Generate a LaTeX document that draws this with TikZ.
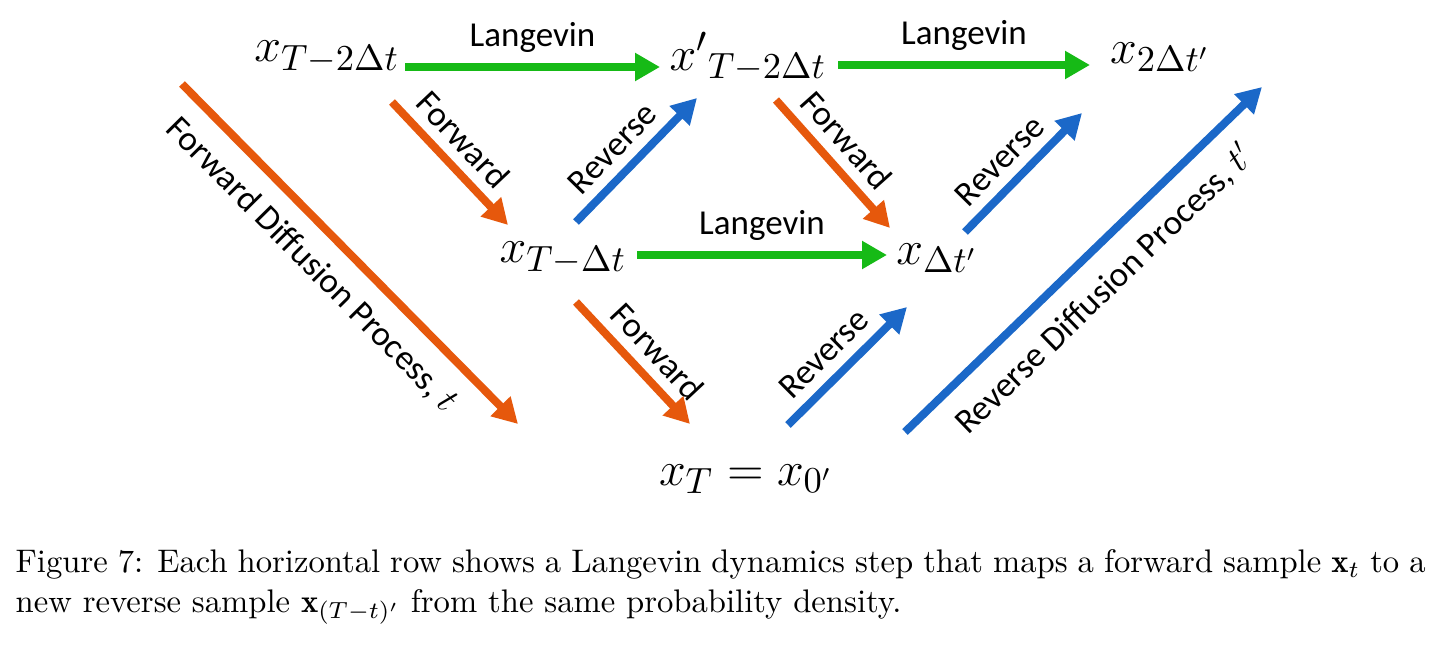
\documentclass[tikz,border=0pt]{standalone}
\usepackage{fontspec}
\newfontfamily\calibri{Carlito}
\usetikzlibrary{arrows.meta}

\definecolor{fwdorange}{RGB}{230,88,12}
\definecolor{revblue}{RGB}{27,104,200}
\definecolor{lgvgreen}{RGB}{22,186,22}

\begin{document}
\begin{tikzpicture}[x=0.3pt, y=-0.3pt, >={Triangle[width=8pt,length=7.5pt]},
  state/.style={inner sep=0pt, font=\fontsize{15}{18}\selectfont},
  lbl/.style={text=black, font=\calibri\fontsize{10.5}{12}\selectfont, inner sep=3pt},
  fwd/.style={->, fwdorange, line width=2.4pt},
  rev/.style={->, revblue, line width=2.4pt},
  lgv/.style={->, lgvgreen, line width=2.4pt}]

\useasboundingbox (0,0) rectangle (1435,652);

% samples, one row per Langevin step
\node[state] (a) at (327,57) {$x_{T-2\Delta t}$};
\node[state] (b) at (748,57) {${x'}_{T-2\Delta t}$};
\node[state] (c) at (1160,57) {$x_{2\Delta t'}$};
\node[state] (d) at (563,258) {$x_{T-\Delta t}$};
\node[state] (e) at (937,258) {$x_{\Delta t'}$};
\node[state] (f) at (746,479) {$x_T = x_{0'}$};

% Langevin steps
\draw[lgv] ([shift={(78,10)}]a.center) -- ([shift={(-88,10)}]b.center) node[lbl, midway, above] {Langevin};
\draw[lgv] ([shift={(90,8)}]b.center) -- ([shift={(-70,8)}]c.center) node[lbl, midway, above] {Langevin};
\draw[lgv] ([shift={(74,-3)}]d.center) -- ([shift={(-50,-3)}]e.center) node[lbl, midway, above] {Langevin};

% forward steps
\draw[fwd] ([shift={(65,45)}]a.center) -- ([shift={(-55,-33)}]d.center) node[lbl, pos=0.45, sloped, above] {Forward};
\draw[fwd] ([shift={(28,43)}]b.center) -- ([shift={(-47,-30)}]e.center) node[lbl, pos=0.45, sloped, above] {Forward};
\draw[fwd] ([shift={(13,44)}]d.center) -- ([shift={(-56,-55)}]f.center) node[lbl, pos=0.55, sloped, above] {Forward};

% reverse steps
\draw[rev] ([shift={(13,-36)}]d.center) -- ([shift={(-51,41)}]b.center) node[lbl, pos=0.45, sloped, above] {Reverse};
\draw[rev] ([shift={(28,-26)}]e.center) -- ([shift={(-78,56)}]c.center) node[lbl, pos=0.45, sloped, above] {Reverse};
\draw[rev] ([shift={(42,-54)}]f.center) -- ([shift={(-30,49)}]e.center) node[lbl, pos=0.45, sloped, above] {Reverse};

% whole processes
\coordinate (fwd0) at (182,84);
\coordinate (fwd1) at (518,424);
\coordinate (rev0) at (905,432);
\coordinate (rev1) at (1262,87);
\draw[fwd] (fwd0) -- (fwd1) node[lbl, pos=0.46, sloped, below, inner sep=5pt] {Forward Diffusion Process, $t$};
\draw[rev] (rev0) -- (rev1) node[lbl, pos=0.49, sloped, below, inner sep=5pt] {Reverse Diffusion Process, $t'$};

% caption
\node[anchor=north west, inner sep=0pt, text width=423pt, align=justify, font=\fontsize{9.8}{12}\selectfont] (cap) at (15,549)
  {Figure 7: Each horizontal row shows a Langevin dynamics step that maps a forward sample $\mathbf{x}_t$ to a\linebreak new reverse sample $\mathbf{x}_{(T-t)'}$ from the same probability density.};

\end{tikzpicture}
\end{document}
